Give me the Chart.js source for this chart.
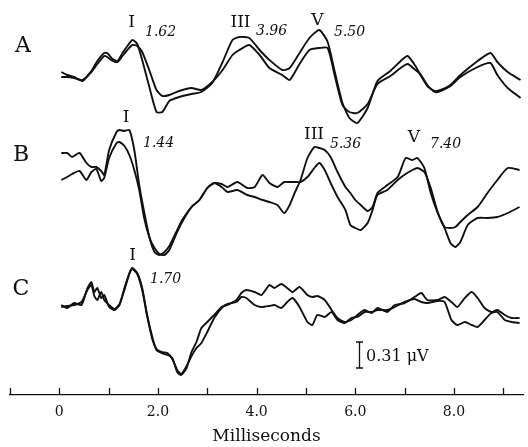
<!DOCTYPE html>
<html>
<head>
<meta charset="utf-8">
<script src="https://cdn.jsdelivr.net/npm/chart.js@4.4.1/dist/chart.umd.min.js"></script>
<style>
  html, body { margin: 0; padding: 0; background: #fff; }
</style>
</head>
<body>
<canvas id="abrChart" width="528" height="447"></canvas>
<script>
// ABR waveforms, time in ms, amplitude in display units (26 units = 0.31 uV)
const timesA = [0.04,0.16,0.30,0.47,0.65,0.77,0.91,0.97,1.08,1.18,1.28,1.38,1.48,1.58,1.68,1.83,1.97,2.09,2.23,2.43,
  2.68,2.88,3.10,3.31,3.51,3.65,3.85,4.06,4.26,4.52,4.67,4.87,5.07,5.27,5.44,5.58,5.74,5.88,6.04,6.25,
  6.45,6.71,6.92,7.06,7.22,7.32,7.46,7.61,7.73,7.93,8.13,8.48,8.74,8.88,9.09,9.35];
const ampA1 = [8,5,3,-1,9,19,27,27,21,19,27,34,40,36,20,-8,-32,-32,-21,-17,
  -14,-12,-3,18,40,43,42,30,20,10,12,27,42,50,38,9,-23,-38,-43,-28,
  -1,9,19,24,14,5,-6,-11,-10,-5,5,19,27,18,8,0];
const ampA2 = [3,3,2,0,8,16,24,23,19,18,24,30,35,34,28,9,-10,-16,-15,-11,
  -8,-10,-2,10,25,30,35,25,12,5,0,16,30,32,32,5,-25,-32,-33,-24,
  -4,4,12,16,10,6,-5,-12,-11,-6,3,13,17,5,-8,-18];

const timesB = [0.04,0.16,0.26,0.41,0.55,0.65,0.75,0.85,0.91,1.01,1.16,1.22,1.32,1.42,1.52,1.62,1.72,1.83,1.93,2.03,
  2.13,2.23,2.37,2.49,2.68,2.84,3.00,3.14,3.29,3.41,3.61,3.81,3.96,4.12,4.26,4.42,4.56,4.67,4.77,4.89,
  5.03,5.17,5.27,5.38,5.50,5.64,5.80,5.90,6.00,6.11,6.25,6.35,6.45,6.65,6.86,7.02,7.16,7.26,7.40,7.53,
  7.67,7.81,7.93,8.03,8.13,8.28,8.48,8.68,8.88,9.09,9.33];
const ampB1 = [37,37,33,37,27,23,23,19,15,40,58,60,59,60,40,5,-22,-48,-62,-65,
  -62,-56,-42,-30,-17,-10,2,7,6,3,8,2,3,15,7,3,8,8,8,8,
  13,22,27,20,7,-7,-20,-35,-38,-40,-33,-20,-5,0,10,16,20,22,18,2,
  -22,-37,-38,-37,-32,-25,-17,-3,10,22,20];
const ampB2 = [10,13,16,19,10,18,21,9,12,32,47,48,44,35,20,0,-28,-48,-58,-64,
  -65,-60,-44,-32,-17,-10,2,7,3,-2,0,-5,-7,-10,-12,-15,-23,-15,-3,10,
  32,43,42,40,33,18,3,-3,-10,-15,-21,-17,-3,5,13,32,30,32,22,-3,
  -23,-38,-53,-57,-52,-35,-28,-28,-27,-23,-17];

const timesC = [0.04,0.16,0.30,0.45,0.57,0.65,0.71,0.77,0.85,0.91,1.01,1.12,1.22,1.32,1.42,1.48,1.58,1.68,1.78,1.89,
  1.97,2.07,2.19,2.29,2.39,2.47,2.58,2.68,2.78,2.88,3.00,3.14,3.29,3.41,3.59,3.69,3.79,3.96,4.10,4.26,
  4.36,4.50,4.62,4.73,4.87,5.03,5.13,5.23,5.38,5.52,5.64,5.78,5.92,6.04,6.19,6.33,6.45,6.65,6.80,7.00,
  7.20,7.34,7.46,7.67,7.81,7.95,8.07,8.22,8.36,8.48,8.62,8.76,8.88,9.03,9.17,9.33];
const ampC1 = [5,2,7,5,22,28,18,22,12,15,3,0,5,22,37,42,37,22,-5,-28,
  -40,-43,-45,-48,-62,-65,-58,-42,-32,-18,-12,-5,3,5,10,17,20,18,15,25,
  22,26,22,18,23,15,13,14,10,0,-8,-12,-10,-5,0,-3,2,-2,5,7,
  13,17,10,10,13,8,3,12,18,12,2,-2,0,-5,-8,-8];
const ampC2 = [3,4,5,8,20,25,14,10,18,10,5,1,6,20,36,41,36,20,-6,-30,
  -39,-42,-43,-49,-60,-64,-56,-46,-38,-33,-22,-8,2,6,8,13,12,5,3,4,
  5,2,8,12,3,-12,-15,-5,-7,-2,-10,-13,-8,-7,-2,-2,0,0,3,8,
  11,8,7,9,8,-10,-15,-12,-15,-17,-10,-3,-2,-10,-12,-13];

const tickValues = [-1,0,1,2,3,4,5,6,7,8,9];
const scaleBarUnits = 26;   // 0.31 uV
const panelOffset = { A: 315, B: 205, C: 85 };
const ink = '#111';
const serif = "'DejaVu Serif', 'Liberation Serif', serif";

function trace(times, amps, offset) {
  return times.map((t, i) => ({ x: t, y: offset + amps[i] }));
}

function lineSet(data) {
  return {
    data: data,
    borderColor: ink,
    borderWidth: 1.9,
    pointRadius: 0,
    tension: 0.2,
    fill: false
  };
}

const annotations = {
  id: 'annotations',
  afterDraw(chart) {
    const ctx = chart.ctx;
    const x = chart.scales.x;
    const y = chart.scales.y;
    const bottom = chart.chartArea.bottom;
    ctx.save();
    ctx.strokeStyle = ink;
    ctx.fillStyle = ink;
    ctx.lineWidth = 1.3;
    // upward tick marks on the time axis
    tickValues.forEach(v => {
      const px = Math.round(x.getPixelForValue(v)) + 0.5;
      ctx.beginPath();
      ctx.moveTo(px, bottom);
      ctx.lineTo(px, bottom - 7);
      ctx.stroke();
    });

    // scale bar
    const barX = 359.5, barBottom = 368;
    const barTop = barBottom - (y.getPixelForValue(0) - y.getPixelForValue(scaleBarUnits));
    ctx.beginPath();
    ctx.moveTo(barX, barTop); ctx.lineTo(barX, barBottom);
    ctx.moveTo(barX - 3.5, barTop); ctx.lineTo(barX + 3.5, barTop);
    ctx.moveTo(barX - 3.5, barBottom); ctx.lineTo(barX + 3.5, barBottom);
    ctx.stroke();

    ctx.textBaseline = 'alphabetic';
    ctx.font = '16px ' + serif;
    ctx.textAlign = 'left';
    ctx.fillText('0.31 \u03bcV', 366, 361);

    // panel letters
    ctx.font = '22px ' + serif;
    ctx.textAlign = 'center';
    ctx.fillText('A', 23, 52);
    ctx.fillText('B', 21, 161);
    ctx.fillText('C', 21, 295);

    // wave labels
    ctx.font = '17px ' + serif;
    [['I', 131.5, 27], ['III', 240.5, 27], ['V', 317.5, 25],
     ['I', 126, 122], ['III', 314, 139], ['V', 414, 142],
     ['I', 132.5, 260]].forEach(l => ctx.fillText(l[0], l[1], l[2]));

    // latencies
    ctx.font = 'italic 14px ' + serif;
    ctx.textAlign = 'left';
    [['1.62', 145, 36], ['3.96', 256, 35], ['5.50', 334, 36],
     ['1.44', 143, 147], ['5.36', 330, 148], ['7.40', 430, 148],
     ['1.70', 150, 283]].forEach(l => ctx.fillText(l[0], l[1], l[2]));
    ctx.restore();
  }
};

new Chart(document.getElementById('abrChart').getContext('2d'), {
  type: 'line',
  data: {
    datasets: [
      lineSet(trace(timesA, ampA1, panelOffset.A)),
      lineSet(trace(timesA, ampA2, panelOffset.A)),
      lineSet(trace(timesB, ampB1, panelOffset.B)),
      lineSet(trace(timesB, ampB2, panelOffset.B)),
      lineSet(trace(timesC, ampC1, panelOffset.C)),
      lineSet(trace(timesC, ampC2, panelOffset.C))
    ]
  },
  options: {
    responsive: false,
    animation: false,
    layout: { padding: { left: 10, right: 5, top: 0, bottom: 0 } },
    plugins: { legend: { display: false }, tooltip: { enabled: false } },
    scales: {
      x: {
        type: 'linear',
        position: 'bottom',
        min: -1,
        max: 9.4,
        afterBuildTicks: s => { s.ticks = tickValues.map(v => ({ value: v })); },
        afterFit: s => { s.height = 52; },
        grid: { display: false, drawTicks: false },
        border: { display: true, color: ink, width: 1.3 },
        ticks: {
          autoSkip: false,
          maxRotation: 0,
          padding: 9,
          color: ink,
          font: { family: serif, size: 14 },
          callback: v => v === 0 ? '0' : (v > 0 && v % 2 === 0 ? v.toFixed(1) : '')
        },
        title: {
          display: true,
          text: 'Milliseconds',
          color: ink,
          font: { family: serif, size: 17 },
          padding: 0
        }
      },
      y: { display: false, min: 0, max: 395 }
    }
  },
  plugins: [annotations]
});
</script>
</body>
</html>
